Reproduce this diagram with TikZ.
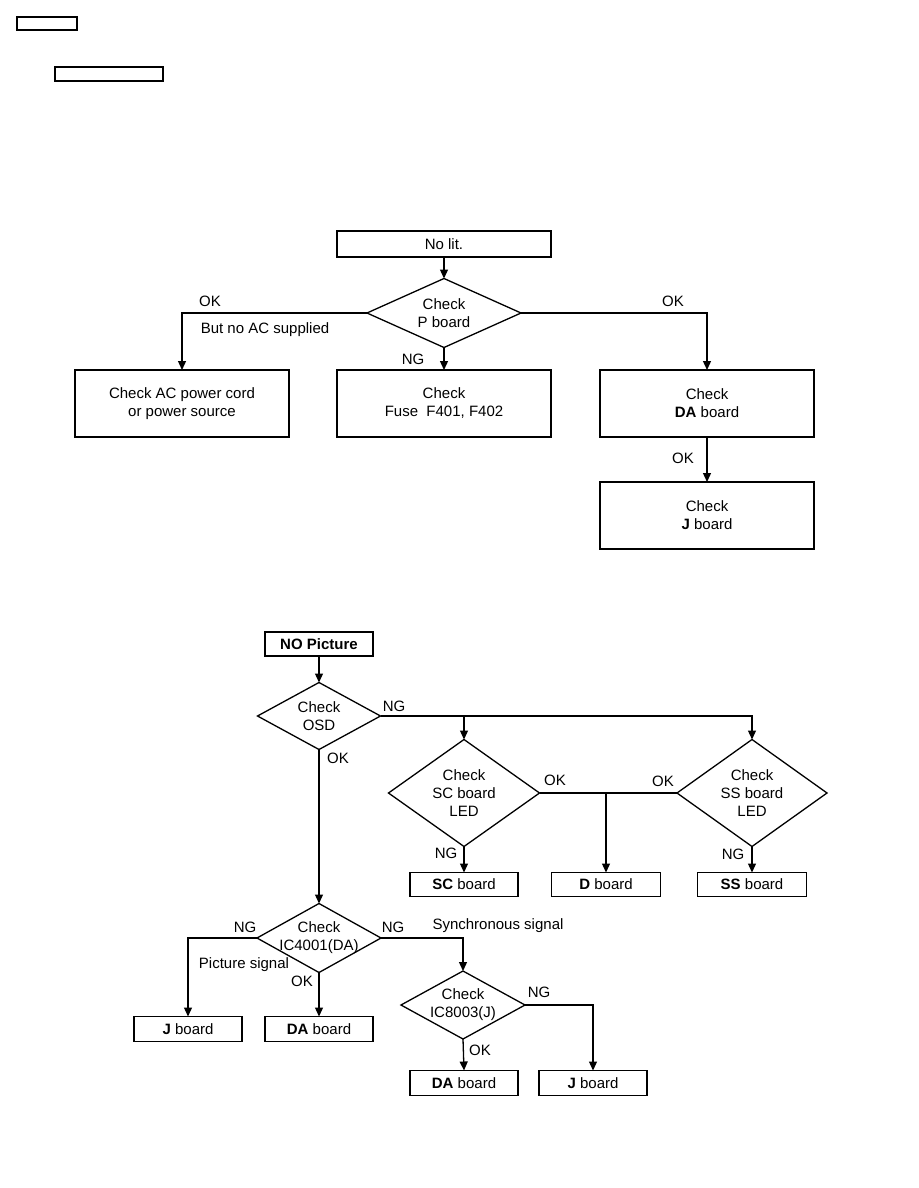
\documentclass[tikz,border=0pt]{standalone}
\usepackage{fontspec}
\setmainfont{Liberation Sans}
\usetikzlibrary{arrows.meta,shapes.geometric}
\tikzset{
  box/.style={draw, line width=1.5pt, inner sep=0pt, outer sep=0pt, align=center},
  dia/.style={draw, shape=diamond, line width=1.3pt, inner sep=0pt, outer sep=0pt},
  txt/.style={align=center, inner sep=0pt},
  lbl/.style={inner sep=0pt},
  arr/.style={line width=1.3pt, -{Triangle[length=9pt,width=8pt]}},
  ln/.style={line width=1.3pt}
}
\begin{document}
\begin{tikzpicture}[x=1pt,y=-1pt,font=\fontsize{15}{18}\selectfont]
\useasboundingbox (0,0) rectangle (918,1188);
% header boxes
\node[box, minimum width=60pt, minimum height=13pt] (hdr1) at (47,23.5) {};
\node[box, minimum width=108pt, minimum height=14pt] (hdr2) at (109,74) {};
% ---------- top chart
\node[box, minimum width=214pt, minimum height=26pt] (nolit) at (444,244) {No lit.};
\node[dia, minimum width=154pt, minimum height=69pt] (pb) at (444,313) {};
\node[txt] at (pb) {Check\\P board};
\node[box, minimum width=214pt, minimum height=67pt] (ac) at (182,403.5) {Check AC power cord\\or power source};
\node[box, minimum width=214pt, minimum height=67pt] (fuse) at (444,403.5) {Check\\Fuse~ F401, F402};
\node[box, minimum width=214pt, minimum height=67pt] (da) at (707,403.5) {Check\\\textbf{DA} board};
\node[box, minimum width=214pt, minimum height=67pt] (jb) at (707,515.5) {Check\\\textbf{J} board};
\draw[arr] (nolit.south) -- (pb.north);
\draw[arr] (pb.west) -| (ac.north);
\draw[arr] (pb.south) -- (fuse.north);
\draw[arr] (pb.east) -| (da.north);
\draw[arr] (da.south) -- (jb.north);
\node[lbl] (l1) at (210,301) {OK};
\node[lbl] (l2) at (265,330) {But no AC supplied};
\node[lbl] (l3) at (413,359) {NG};
\node[lbl] (l4) at (673,301) {OK};
\node[lbl] (l5) at (683,458) {OK};
% ---------- bottom chart
\node[box, minimum width=108pt, minimum height=24pt] (nopic) at (319,644) {\textbf{NO Picture}};
\node[dia, minimum width=123pt, minimum height=67pt] (osd) at (319,716) {};
\node[txt] at (osd) {Check\\OSD};
\node[dia, minimum width=151pt, minimum height=107pt] (sc) at (464,793) {};
\node[txt] at (sc) {Check\\SC board\\LED};
\node[dia, minimum width=150pt, minimum height=107pt] (ss) at (752,793) {};
\node[txt] at (ss) {Check\\SS board\\LED};
\node[box, minimum width=108pt, minimum height=24pt] (scb) at (464,884.5) {\textbf{SC} board};
\node[box, minimum width=109pt, minimum height=24pt] (db) at (606,884.5) {\textbf{D} board};
\node[box, minimum width=109pt, minimum height=24pt] (ssb) at (752,884.5) {\textbf{SS} board};
\node[dia, minimum width=124pt, minimum height=69pt] (ic1) at (319,938) {};
\node[txt] at (ic1) {Check\\IC4001(DA)};
\node[box, minimum width=108pt, minimum height=25pt] (jb1) at (188,1029) {\textbf{J} board};
\node[box, minimum width=108pt, minimum height=25pt] (dab1) at (319,1029) {\textbf{DA} board};
\node[dia, minimum width=124pt, minimum height=68pt] (ic2) at (463,1005) {};
\node[txt] at (ic2) {Check\\IC8003(J)};
\node[box, minimum width=108pt, minimum height=25pt] (dab2) at (464,1083) {\textbf{DA} board};
\node[box, minimum width=108pt, minimum height=25pt] (jb2) at (593,1083) {\textbf{J} board};
\coordinate (j1) at (sc.north |- osd.east);
\coordinate (j2) at (db.north |- sc.east);
\draw[arr] (nopic.south) -- (osd.north);
\draw[arr] (osd.east) -| (ss.north);
\draw[arr] (j1) -- (sc.north);
\draw[ln] (sc.east) -- (ss.west);
\draw[arr] (j2) -- (db.north);
\draw[arr] (sc.south) -- (scb.north);
\draw[arr] (ss.south) -- (ssb.north);
\draw[arr] (osd.south) -- (ic1.north);
\draw[arr] (ic1.west) -| (jb1.north);
\draw[arr] (ic1.south) -- (dab1.north);
\draw[arr] (ic1.east) -| (ic2.north);
\draw[arr] (ic2.south) -- (dab2.north);
\draw[arr] (ic2.east) -| (jb2.north);
\node[lbl] (m1) at (394,706) {NG};
\node[lbl] (m2) at (338,758) {OK};
\node[lbl] (m3) at (555,780) {OK};
\node[lbl] (m4) at (663,781) {OK};
\node[lbl] (m5) at (446,853) {NG};
\node[lbl] (m6) at (733,854) {NG};
\node[lbl] (m7) at (245,927) {NG};
\node[lbl] (m8) at (393,927) {NG};
\node[lbl] (m9) at (498,926) {Synchronous signal};
\node[lbl] (m10) at (244,965) {Picture signal};
\node[lbl] (m11) at (302,981) {OK};
\node[lbl] (m12) at (539,992) {NG};
\node[lbl] (m13) at (480,1050) {OK};
\end{tikzpicture}
\end{document}
